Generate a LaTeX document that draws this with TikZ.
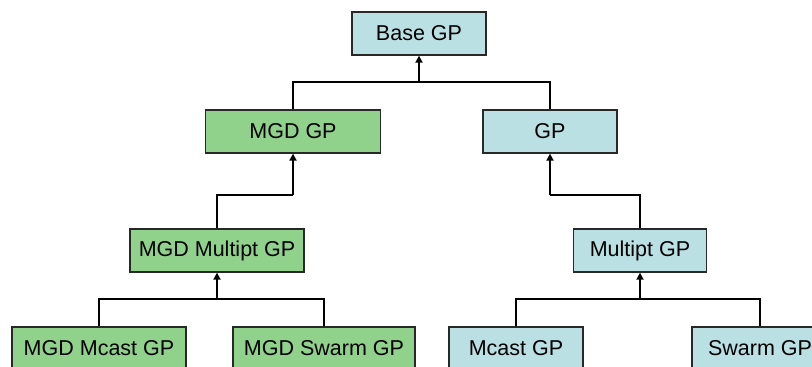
\documentclass[tikz,border=0pt]{standalone}
\usepackage{fontspec}
\setmainfont{Liberation Sans}
\usetikzlibrary{arrows.meta}
\definecolor{gpgreen}{RGB}{144,210,140}
\definecolor{gpblue}{RGB}{186,224,227}
\definecolor{gpline}{RGB}{40,40,40}
\begin{document}
\begin{tikzpicture}[x=1pt,y=-1pt,
    gpbox/.style={draw=gpline,line width=1.3pt,minimum height=43pt,inner sep=0pt,
      font=\fontsize{21.5}{24}\selectfont},
    mgd/.style={gpbox,fill=gpgreen},
    plain/.style={gpbox,fill=gpblue},
    link/.style={line width=2pt,black},
    inherit/.style={link,-{Triangle[length=7pt,width=7pt]}}]
  \useasboundingbox (0,0) rectangle (812,367);
  \clip (0,0) rectangle (812,367);
  \draw
    (419,33.5) node[plain,minimum width=134pt] (base){Base GP}
    (293,131.5) node[mgd,minimum width=175pt] (mgdgp){MGD GP}
    (550,131.5) node[plain,minimum width=134pt] (gp){GP}
    (217,250.5) node[mgd,minimum width=174pt] (mgdmulti){MGD Multipt GP}
    (640,250.5) node[plain,minimum width=133pt] (multi){Multipt GP}
    (99,348.5) node[mgd,minimum width=174pt] (mgdmcast){MGD Mcast GP}
    (324,348.5) node[mgd,minimum width=182pt] (mgdswarm){MGD Swarm GP}
    (516,348.5) node[plain,minimum width=134pt] (mcast){Mcast GP}
    (760,348.5) node[plain,minimum width=136pt] (swarm){Swarm GP};
  % junctions of the tree
  \coordinate (jbase) at (base.south |- 0,82);
  \coordinate (jmgd) at (mgdgp.south |- 0,195);
  \coordinate (jgp) at (gp.south |- 0,195);
  \coordinate (jmgdmulti) at (mgdmulti.south |- 0,299);
  \coordinate (jmulti) at (multi.south |- 0,299);
  \begin{scope}[link]
    \draw (mgdgp.north) |- (jbase);
    \draw (gp.north) |- (jbase);
    \draw (mgdmulti.north) |- (jmgd);
    \draw (multi.north) |- (jgp);
    \draw (mgdmcast.north) |- (jmgdmulti);
    \draw (mgdswarm.north) |- (jmgdmulti);
    \draw (mcast.north) |- (jmulti);
    \draw (swarm.north) |- (jmulti);
  \end{scope}
  \begin{scope}[inherit]
    \draw (jbase) -- (base.south);
    \draw (jmgd) -- (mgdgp.south);
    \draw (jgp) -- (gp.south);
    \draw (jmgdmulti) -- (mgdmulti.south);
    \draw (jmulti) -- (multi.south);
  \end{scope}
\end{tikzpicture}
\end{document}
